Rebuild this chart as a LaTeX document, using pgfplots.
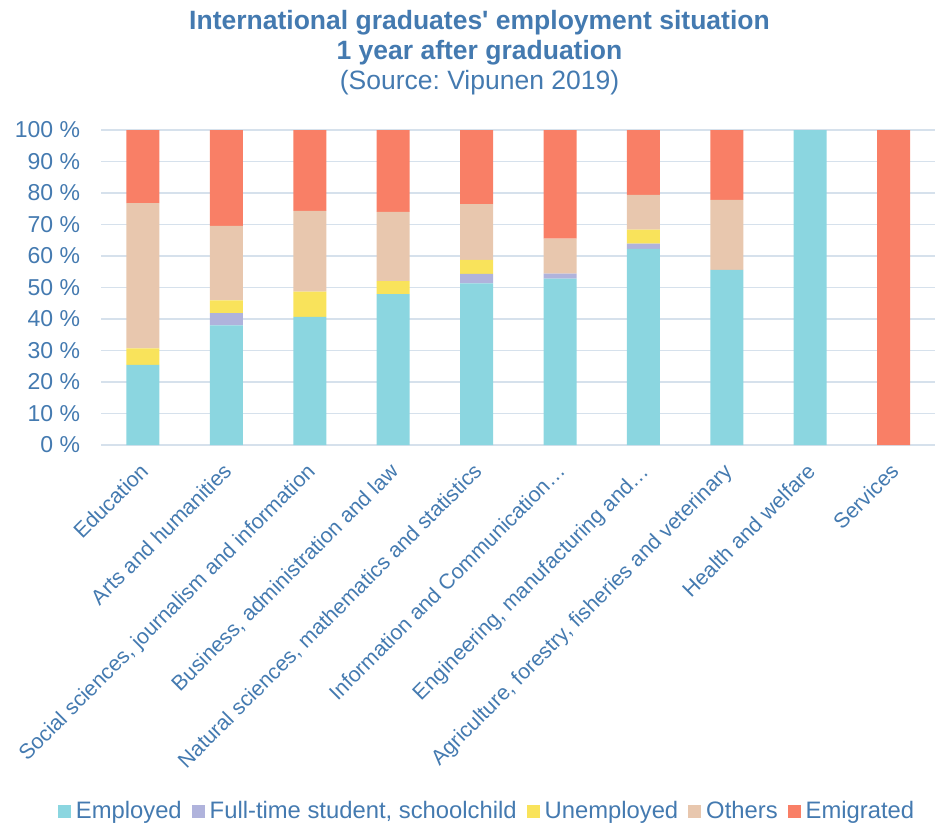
\documentclass[border=0pt]{standalone}
\usepackage{fontspec}
\setmainfont{Liberation Sans}
\usepackage{pgfplots}
\pgfplotsset{compat=1.18}
\usepackage{pgfplotstable}
\usetikzlibrary{calc}
\frenchspacing
\definecolor{txt}{RGB}{68,122,176}
\definecolor{gridc}{RGB}{214,225,236}
\definecolor{cemp}{RGB}{139,214,224}
\definecolor{cstu}{RGB}{176,179,220}
\definecolor{cune}{RGB}{249,227,91}
\definecolor{coth}{RGB}{232,199,174}
\definecolor{cemi}{RGB}{249,127,102}
\pgfplotstableread{
x emp stu unemp oth emig
0 25.4 0 5.3 46.1 23.2
1 38.0 3.9 4.0 23.7 30.4
2 40.7 0 8.0 25.6 25.7
3 47.9 0 4.1 22.0 26.0
4 51.3 3.0 4.5 17.7 23.5
5 52.8 1.6 0 11.1 34.5
6 62.3 1.6 4.5 11.0 20.6
7 55.6 0 0 22.2 22.2
8 100 0 0 0 0
9 0 0 0 0 100
}\data
\begin{document}
\begin{tikzpicture}
\begin{axis}[
  scale only axis, width=834bp, height=315bp,
  clip=false,
  ybar stacked, bar width=33bp,
  xmin=-0.5, xmax=9.5, ymin=0, ymax=100,
  xtick={0,...,9},
  xticklabels={Education, Arts and humanities, {Social sciences, journalism and information}, {Business, administration and law}, {Natural sciences, mathematics and statistics}, {Information and Communication…}, {Engineering, manufacturing and…}, {Agriculture, forestry, fisheries and veterinary}, Health and welfare, Services},
  ytick={0,10,...,100},
  /pgf/number format/assume math mode=true,
  yticklabel={\pgfmathprintnumber{\tick}~\%},
  axis line style={draw=none},
  major tick length=0,
  ymajorgrids, grid style={gridc, line width=1.6bp},
  tick label style={text=txt},
  yticklabel style={font=\fontsize{23bp}{27bp}\selectfont, anchor=east, inner sep=0pt, xshift=-21bp},
  xticklabel style={font=\fontsize{21.3bp}{25bp}\selectfont, rotate=45, anchor=north east, inner sep=0pt, yshift=-8.6bp, xshift=-15bp},
  legend style={at={(0.4613,-1.162)}, anchor=center, draw=none, legend columns=-1,
    font=\fontsize{23.8bp}{27bp}\selectfont, text=txt, inner sep=0pt,
    /tikz/every odd column/.append style={column sep=5bp},
    /tikz/every even column/.append style={column sep=10bp},
    nodes={inner sep=0pt}},
  legend image code/.code={\fill[#1] (0bp,-6.5bp) rectangle (13bp,6.5bp);},
]
\addplot[fill=cemp, draw=none] table[x=x, y=emp] {\data};
\addplot[fill=cstu, draw=none] table[x=x, y=stu] {\data};
\addplot[fill=cune, draw=none] table[x=x, y=unemp] {\data};
\addplot[fill=coth, draw=none] table[x=x, y=oth] {\data};
\addplot[fill=cemi, draw=none] table[x=x, y=emig] {\data};
\legend{Employed, {Full-time student, schoolchild}, Unemployed, Others, Emigrated}
\coordinate (sw) at (rel axis cs:0,0);
\end{axis}
\node[anchor=north, align=center, text=txt, font=\fontsize{26.5bp}{30bp}\selectfont] at ($(sw)+(378.2bp,438bp)$)
  {\textbf{International graduates\textquotesingle\ employment situation}\\\textbf{1 year after graduation}\\(Source: Vipunen 2019)};
\pgfresetboundingbox
\path[use as bounding box] ($(sw)+(-101.3bp,-379bp)$) rectangle ($(sw)+(834.7bp,445bp)$);
\end{tikzpicture}
\end{document}
